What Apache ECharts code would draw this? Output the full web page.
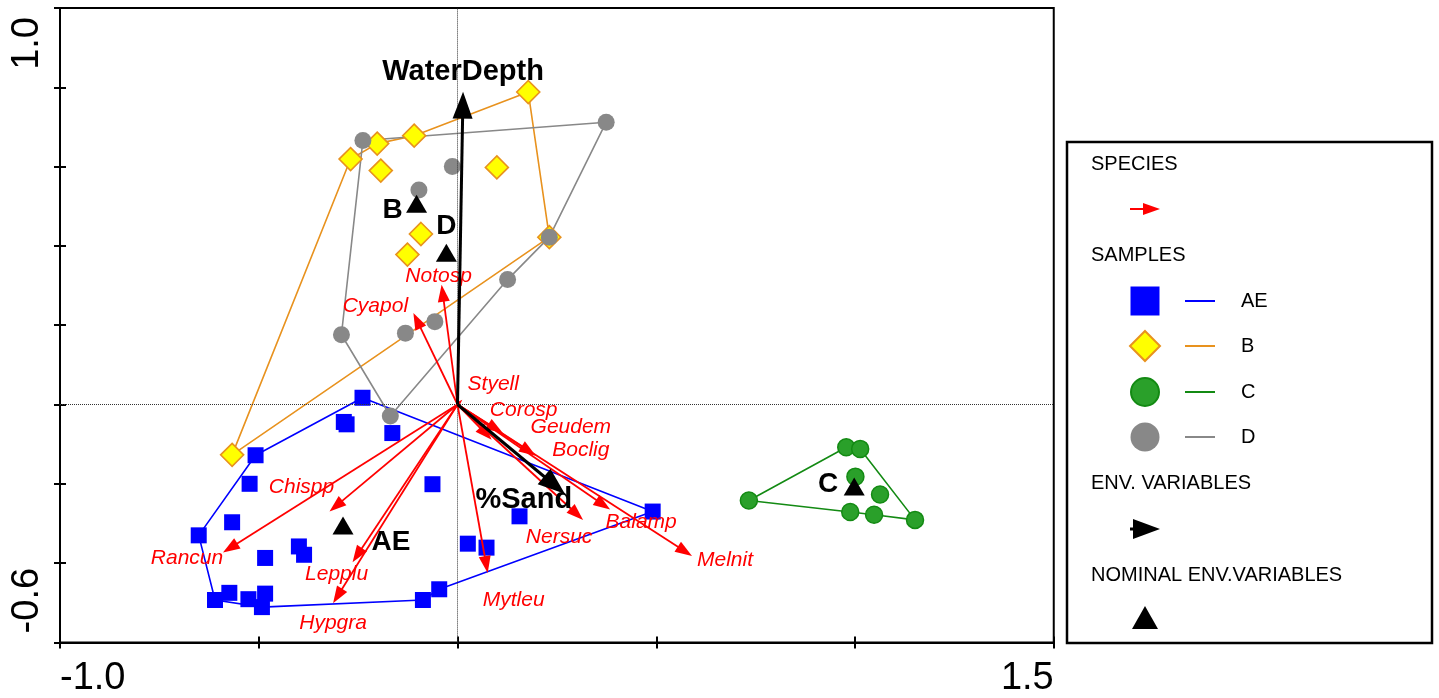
<!DOCTYPE html>
<html>
<head>
<meta charset="utf-8">
<script src="https://cdn.jsdelivr.net/npm/echarts@6/dist/echarts.min.js"></script>
<style>
  html, body { margin: 0; padding: 0; background: #fff; }
  #chart { width: 1439px; height: 698px; }
</style>
</head>
<body>
<div id="chart"></div>
<script>
// ---- sample scores (axis 1, axis 2) per group ----
const aeX = [-0.239, -0.286, -0.279, -0.164, -0.508, -0.523, -0.063, -0.567, -0.651, -0.484, -0.399, -0.386,
             0.026, 0.073, 0.156, 0.491, -0.046, -0.087, -0.484, -0.492, -0.526, -0.574, -0.610];
const aeY = [0.017, -0.044, -0.050, -0.072, -0.128, -0.200, -0.201, -0.297, -0.330, -0.387, -0.358, -0.379,
             -0.351, -0.361, -0.282, -0.270, -0.466, -0.493, -0.477, -0.511, -0.491, -0.475, -0.493];
const aeHull = [0, 15, 16, 17, 19, 22, 8, 4, 0];

const bX = [-0.269, -0.202, -0.109, -0.193, -0.092, -0.126, 0.178, 0.099, 0.231, -0.567];
const bY = [0.619, 0.658, 0.678, 0.590, 0.430, 0.378, 0.788, 0.598, 0.422, -0.127];
const bHull = [9, 0, 1, 2, 6, 8, 9];

const cX = [0.978, 1.013, 1.001, 1.063, 0.733, 0.988, 1.048, 1.151];
const cY = [-0.108, -0.112, -0.182, -0.227, -0.242, -0.271, -0.278, -0.291];
const cHull = [4, 0, 1, 7, 6, 5, 4];

const dX = [-0.238, -0.097, -0.013, -0.292, -0.131, -0.057, 0.374, 0.231, 0.126, -0.169];
const dY = [0.666, 0.541, 0.600, 0.176, 0.180, 0.209, 0.712, 0.422, 0.315, -0.029];
const dHull = [0, 6, 7, 8, 9, 3, 0];

// ---- species arrows ----
const speciesNames = ['Styell', 'Corosp', 'Geudem', 'Boclig', 'Nersuc', 'Balamp', 'Melnit',
                      'Mytleu', 'Chispp', 'Rancun', 'Lepplu', 'Hypgra', 'Notosp', 'Cyapol'];
const speciesX = [0.012, 0.086, 0.114, 0.197, 0.316, 0.384, 0.590, 0.076, -0.322, -0.590, -0.264, -0.313, -0.040, -0.111];
const speciesY = [0.012, -0.089, -0.072, -0.129, -0.291, -0.265, -0.382, -0.425, -0.270, -0.373, -0.398, -0.501, 0.302, 0.231];

// ---- quantitative environmental variables ----
const envNames = ['WaterDepth', '%Sand'];
const envX = [0.014, 0.270];
const envY = [0.789, -0.225];

// ---- nominal environmental variables (group centroids) ----
const nominalNames = ['B', 'D', 'AE', 'C'];
const nominalX = [-0.103, -0.028, -0.288, 0.998];
const nominalY = [0.506, 0.383, -0.305, -0.207];

// ---- axis tick labels ----
const xTickValues = [-1.0, 1.5];
const xTickLabels = ['-1.0', '1.5'];
const yTickValues = [-0.6, 1.0];
const yTickLabels = ['-0.6', '1.0'];

// label placement (pixel offsets from the arrow tip / symbol)
const speciesLabelOffsets = [[31, -16], [32, -30], [68, -6], [45, -5], [-24, 17], [31, 13], [33, 4],
                             [26, 27], [-28, -24], [-36, 6], [-16, 12], [0, 20], [-3, -9], [-38, -7]];
const envLabelOffsets = [[0, -20], [-41, 6]];
const nominalLabelOffsets = [[-24, 6], [0, -26], [48, 17], [-26, -2]];

const FONT = '"Liberation Sans", Arial, Helvetica, sans-serif';

const zip = (xs, ys) => xs.map((x, i) => [x, ys[i]]);
const hullPath = (xs, ys, order) => order.map(i => [xs[i], ys[i]]);

function tickFormatter(values, labels) {
  return function (v) {
    for (let i = 0; i < values.length; i++) {
      if (Math.abs(v - values[i]) < 1e-6) return labels[i];
    }
    return '';
  };
}

function arrowRenderer(names, offsets, opt) {
  return function (params, api) {
    const o = api.coord([0, 0]);
    const t = api.coord([api.value(0), api.value(1)]);
    const dx = t[0] - o[0], dy = t[1] - o[1];
    const len = Math.hypot(dx, dy) || 1;
    const ux = dx / len, uy = dy / len;
    const hl = Math.min(opt.headLen, len * 0.9);
    const hw = opt.headHalf * hl / opt.headLen;
    const bx = t[0] - ux * hl, by = t[1] - uy * hl;
    const off = offsets[params.dataIndex];
    return {
      type: 'group',
      children: [
        { type: 'line', shape: { x1: o[0], y1: o[1], x2: bx + ux * 2, y2: by + uy * 2 },
          style: { stroke: opt.color, lineWidth: opt.lineWidth } },
        { type: 'polygon',
          shape: { points: [[t[0], t[1]], [bx - uy * hw, by + ux * hw], [bx + uy * hw, by - ux * hw]] },
          style: { fill: opt.color } },
        { type: 'text',
          style: { text: names[params.dataIndex], x: t[0] + off[0], y: t[1] + off[1],
                   fill: opt.color, font: opt.font,
                   align: 'center', verticalAlign: 'middle',
                   textAlign: 'center', textVerticalAlign: 'middle' } }
      ]
    };
  };
}

function sampleSeries(name, xs, ys, symbol, size, fill, stroke, strokeW) {
  return {
    name, type: 'scatter', data: zip(xs, ys), symbol, symbolSize: size, z: 4,
    itemStyle: { color: fill, borderColor: stroke, borderWidth: strokeW, opacity: 1 }
  };
}
function hullSeries(name, xs, ys, order, color) {
  return {
    name: name + ' hull', type: 'line', data: hullPath(xs, ys, order), symbol: 'none', z: 3,
    lineStyle: { color, width: 1.6 }, silent: true
  };
}

const chart = echarts.init(document.getElementById('chart'), null, { renderer: 'canvas' });

const axisCommon = {
  type: 'value',
  axisLine: { show: true, onZero: false, lineStyle: { color: '#000', width: 2 } },
  splitLine: { show: false }
};
const tickStyle = { color: '#000', width: 2 };

const option = {
  animation: false,
  backgroundColor: '#fff',
  grid: { left: 60, top: 8, width: 993.75, height: 634.4, show: true, borderColor: '#000', borderWidth: 2 },
  xAxis: [
    Object.assign({}, axisCommon, {
      min: -1.0, max: 1.5, interval: 0.5, position: 'bottom',
      axisTick: { show: true, inside: false, length: 6, lineStyle: tickStyle },
      axisLabel: { show: true, formatter: tickFormatter(xTickValues, xTickLabels), fontSize: 38,
                   fontFamily: FONT, color: '#000', margin: 17, hideOverlap: false,
                   alignMinLabel: 'left', alignMaxLabel: 'right', showMinLabel: true, showMaxLabel: true }
    }),
    Object.assign({}, axisCommon, {
      min: -1.0, max: 1.5, interval: 0.5, position: 'bottom', offset: 0,
      axisTick: { show: true, inside: true, length: 6, lineStyle: tickStyle },
      axisLabel: { show: false }
    })
  ],
  yAxis: [
    Object.assign({}, axisCommon, {
      min: -0.6, max: 1.0, interval: 0.2, position: 'left',
      axisTick: { show: true, inside: false, length: 6, lineStyle: tickStyle },
      axisLabel: { show: true, formatter: tickFormatter(yTickValues, yTickLabels), fontSize: 38,
                   fontFamily: FONT, color: '#000', margin: 13, rotate: 90, hideOverlap: false,
                   alignMinLabel: 'left', alignMaxLabel: 'right', padding: [0, 9, 0, 9],
                   showMinLabel: true, showMaxLabel: true }
    }),
    Object.assign({}, axisCommon, {
      min: -0.6, max: 1.0, interval: 0.2, position: 'left', offset: 0,
      axisTick: { show: true, inside: true, length: 6, lineStyle: tickStyle },
      axisLabel: { show: false }
    })
  ],
  series: [
    {
      name: 'origin', type: 'scatter', data: [], silent: true, z: 1,
      markLine: {
        silent: true, symbol: 'none', label: { show: false },
        lineStyle: { color: '#333', width: 1, type: [1, 1], opacity: 1 },
        data: [{ xAxis: 0 }, { yAxis: 0 }]
      }
    },
    hullSeries('AE', aeX, aeY, aeHull, '#0000FF'),
    hullSeries('B', bX, bY, bHull, '#E8921E'),
    hullSeries('C', cX, cY, cHull, '#138A13'),
    hullSeries('D', dX, dY, dHull, '#888888'),
    sampleSeries('B', bX, bY, 'diamond', 23, '#FFFF00', '#E8921E', 1.6),
    sampleSeries('D', dX, dY, 'circle', 17, '#888888', '#888888', 0),
    sampleSeries('C', cX, cY, 'circle', 17, '#2AA02A', '#138A13', 1.5),
    sampleSeries('AE', aeX, aeY, 'rect', 16, '#0000FF', '#0000FF', 0),
    {
      name: 'species', type: 'custom', z: 5, silent: true,
      data: zip(speciesX, speciesY),
      renderItem: arrowRenderer(speciesNames, speciesLabelOffsets, {
        color: '#FF0000', lineWidth: 1.8, headLen: 17, headHalf: 6,
        font: 'italic 21px ' + FONT
      })
    },
    {
      name: 'env', type: 'custom', z: 6, silent: true,
      data: zip(envX, envY),
      renderItem: arrowRenderer(envNames, envLabelOffsets, {
        color: '#000000', lineWidth: 3, headLen: 27, headHalf: 10,
        font: 'bold 29px ' + FONT
      })
    },
    {
      name: 'nominal', type: 'scatter', z: 7, silent: true,
      symbol: 'triangle', symbolSize: [21, 18],
      itemStyle: { color: '#000', opacity: 1 },
      data: nominalNames.map((n, i) => ({
        name: n, value: [nominalX[i], nominalY[i]],
        label: { show: true, formatter: n, position: 'inside', offset: nominalLabelOffsets[i],
                 color: '#000', opacity: 1, fontSize: 28, fontWeight: 'bold', fontFamily: FONT }
      }))
    }
  ],
  graphic: buildLegend()
};

// legend box drawn at the right of the plot
function buildLegend() {
  const left = 1067, top = 142, w = 365, h = 501;
  const textX = 1091, symX = 1145, lineX1 = 1185, lineX2 = 1215, nameX = 1241;
  const txt = (text, x, y) => ({
    type: 'text', z: 20,
    style: { text, x, y, fill: '#000', font: '20px ' + FONT,
             align: 'left', verticalAlign: 'middle', textAlign: 'left', textVerticalAlign: 'middle' }
  });
  const seg = (y, color, width, x1, x2) => ({
    type: 'line', z: 20, shape: { x1, y1: y, x2, y2: y }, style: { stroke: color, lineWidth: width }
  });
  const els = [];
  els.push({ type: 'rect', z: 19, shape: { x: left, y: top, width: w, height: h },
             style: { fill: '#fff', stroke: '#000', lineWidth: 2.5 } });
  els.push(txt('SPECIES', textX, 164));
  els.push(seg(209, '#FF0000', 2, 1130, 1146));
  els.push({ type: 'polygon', z: 20, shape: { points: [[1143, 203], [1160, 209], [1143, 215]] },
             style: { fill: '#FF0000' } });
  els.push(txt('SAMPLES', textX, 255));

  const rows = [
    { y: 301, name: 'AE', line: '#0000FF' },
    { y: 346, name: 'B', line: '#E8921E' },
    { y: 392, name: 'C', line: '#138A13' },
    { y: 437, name: 'D', line: '#888888' }
  ];
  els.push({ type: 'rect', z: 20, shape: { x: symX - 14.5, y: rows[0].y - 14.5, width: 29, height: 29 },
             style: { fill: '#0000FF' } });
  els.push({ type: 'polygon', z: 20,
             shape: { points: [[symX, rows[1].y - 15], [symX + 15, rows[1].y], [symX, rows[1].y + 15], [symX - 15, rows[1].y]] },
             style: { fill: '#FFFF00', stroke: '#E8921E', lineWidth: 2 } });
  els.push({ type: 'circle', z: 20, shape: { cx: symX, cy: rows[2].y, r: 14 },
             style: { fill: '#2AA02A', stroke: '#138A13', lineWidth: 2 } });
  els.push({ type: 'circle', z: 20, shape: { cx: symX, cy: rows[3].y, r: 14.5 },
             style: { fill: '#888888' } });
  rows.forEach(r => {
    els.push(seg(r.y, r.line, 2, lineX1, lineX2));
    els.push(txt(r.name, nameX, r.y));
  });

  els.push(txt('ENV. VARIABLES', textX, 483));
  els.push(seg(529, '#000', 3, 1130, 1136));
  els.push({ type: 'polygon', z: 20, shape: { points: [[1133, 519], [1160, 529], [1133, 539]] },
             style: { fill: '#000' } });
  els.push(txt('NOMINAL ENV.VARIABLES', textX, 575));
  els.push({ type: 'polygon', z: 20, shape: { points: [[1132, 629], [1145, 606], [1158, 629]] },
             style: { fill: '#000' } });
  return els;
}

chart.setOption(option);
</script>
</body>
</html>
